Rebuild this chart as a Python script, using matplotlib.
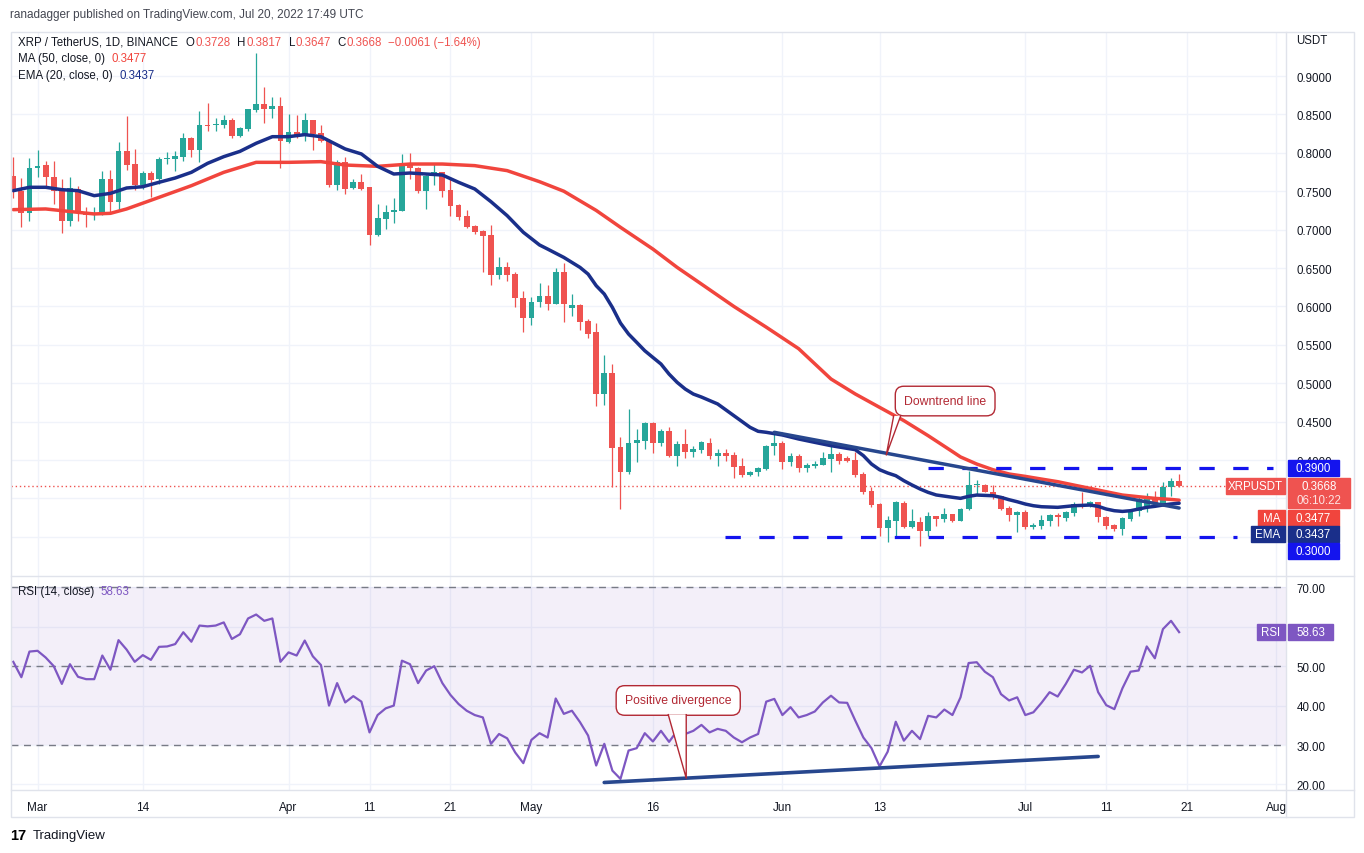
import matplotlib
matplotlib.use("Agg")
import matplotlib.pyplot as plt
import matplotlib.dates as mdates
import matplotlib.transforms as mtransforms
from matplotlib.patches import Rectangle, Polygon
import numpy as np
import pandas as pd

plt.rcParams['font.family'] = ['Liberation Sans', 'DejaVu Sans']

# XRP / USDT daily candles, 26 Feb - 20 Jul 2022
dates = pd.date_range("2022-02-26", "2022-07-20", freq="D")

opens = [
    0.7694, 0.7507, 0.7212,
    # Mar
    0.7798, 0.7846, 0.7681, 0.7516, 0.7117, 0.7529, 0.7234, 0.7195, 0.7204, 0.7659,
    0.7355, 0.8019, 0.7855, 0.7585, 0.7733, 0.7659, 0.7915, 0.7924, 0.7950, 0.8189,
    0.8037, 0.8367, 0.8362, 0.8367, 0.8427, 0.8223, 0.8310, 0.8558, 0.8636, 0.8566, 0.8614,
    # Apr
    0.8137, 0.8267, 0.8223, 0.8427, 0.8254, 0.8158, 0.7581, 0.7876, 0.7538, 0.7624,
    0.7551, 0.6930, 0.7138, 0.7225, 0.7247, 0.7854, 0.7798, 0.7507, 0.7694, 0.7746,
    0.7520, 0.7321, 0.7182, 0.7052, 0.6986, 0.6930, 0.6409, 0.6513, 0.6422, 0.6105,
    # May
    0.5844, 0.6061, 0.6131, 0.6031, 0.6452, 0.5974, 0.6018, 0.5814, 0.5662, 0.4859,
    0.5132, 0.4164, 0.3848, 0.4221, 0.4251, 0.4481, 0.4221, 0.4382, 0.4047, 0.4208,
    0.4100, 0.4135, 0.4222, 0.4048, 0.4091, 0.4065, 0.3918, 0.3805, 0.3848, 0.3883, 0.4178,
    # Jun
    0.4222, 0.3970, 0.4057, 0.3892, 0.3918, 0.3935, 0.4013, 0.4078, 0.4022, 0.4005,
    0.3818, 0.3601, 0.3427, 0.3111, 0.3210, 0.3440, 0.3124, 0.3197, 0.3080, 0.3267,
    0.3232, 0.3297, 0.3210, 0.3362, 0.3674, 0.3674, 0.3587, 0.3535, 0.3370, 0.3284,
    # Jul
    0.3327, 0.3123, 0.3145, 0.3210, 0.3284, 0.3240, 0.3310, 0.3427, 0.3397, 0.3457,
    0.3253, 0.3153, 0.3101, 0.3232, 0.3340, 0.3400, 0.3501, 0.3427, 0.3644, 0.3728,
]
highs = [
    0.7941, 0.7672, 0.7928,
    0.8037, 0.7898, 0.7889, 0.7659, 0.7681, 0.7572, 0.7290, 0.7290, 0.7768, 0.7776,
    0.8137, 0.8484, 0.8050, 0.7768, 0.7768, 0.7941, 0.8006, 0.8019, 0.8254, 0.8210,
    0.8540, 0.8644, 0.8453, 0.8492, 0.8453, 0.8332, 0.8571, 0.9295, 0.8853, 0.8723, 0.8731,
    0.8506, 0.8497, 0.8514, 0.8427, 0.8362, 0.8180, 0.7911, 0.7941, 0.7659, 0.7724,
    0.7551, 0.7334, 0.7321, 0.7407, 0.7985, 0.7998, 0.7811, 0.7711, 0.7854, 0.7755,
    0.7681, 0.7334, 0.7260, 0.7060, 0.6990, 0.7060, 0.6639, 0.6583, 0.6444, 0.6200,
    0.6118, 0.6304, 0.6278, 0.6495, 0.6565, 0.6161, 0.6031, 0.5836, 0.5783, 0.5367,
    0.5250, 0.4295, 0.4664, 0.4403, 0.4490, 0.4490, 0.4403, 0.4425, 0.4251, 0.4403,
    0.4186, 0.4252, 0.4282, 0.4144, 0.4144, 0.4109, 0.4022, 0.3861, 0.3905, 0.4196, 0.4361,
    0.4252, 0.4091, 0.4078, 0.3961, 0.3992, 0.4100, 0.4187, 0.4100, 0.4048, 0.4109,
    0.3840, 0.3644, 0.3440, 0.3275, 0.3471, 0.3471, 0.3362, 0.3254, 0.3328, 0.3275,
    0.3371, 0.3297, 0.3370, 0.3861, 0.3744, 0.3687, 0.3674, 0.3535, 0.3405, 0.3340,
    0.3353, 0.3180, 0.3284, 0.3297, 0.3310, 0.3340, 0.3449, 0.3587, 0.3470, 0.3457,
    0.3275, 0.3166, 0.3253, 0.3353, 0.3514, 0.3570, 0.3600, 0.3709, 0.3761, 0.3817,
]
lows = [
    0.7412, 0.7039, 0.7108,
    0.7681, 0.7559, 0.7334, 0.6952, 0.7052, 0.7117, 0.7039, 0.7125, 0.7195, 0.7225,
    0.7247, 0.7776, 0.7516, 0.7529, 0.7420, 0.7594, 0.7855, 0.7768, 0.7889, 0.7950,
    0.7876, 0.8280, 0.8280, 0.8323, 0.8193, 0.8210, 0.8280, 0.8527, 0.8388, 0.8453, 0.7802,
    0.8124, 0.8193, 0.8150, 0.8037, 0.8145, 0.7559, 0.7520, 0.7464, 0.7529, 0.7520,
    0.6800, 0.6913, 0.7008, 0.7082, 0.7247, 0.7659, 0.7477, 0.7269, 0.7581, 0.7420,
    0.7182, 0.7130, 0.7017, 0.6943, 0.6453, 0.6279, 0.6357, 0.6335, 0.5988, 0.5671,
    0.5757, 0.5987, 0.5957, 0.6031, 0.5801, 0.5879, 0.5697, 0.5584, 0.4707, 0.4716,
    0.3644, 0.3362, 0.3817, 0.3969, 0.4143, 0.4091, 0.4178, 0.4040, 0.3917, 0.4021,
    0.4034, 0.4091, 0.4013, 0.3918, 0.3992, 0.3762, 0.3775, 0.3796, 0.3796, 0.3874, 0.4065,
    0.3883, 0.3918, 0.3848, 0.3848, 0.3900, 0.3935, 0.3848, 0.3948, 0.3970, 0.3775,
    0.3558, 0.3384, 0.3015, 0.2937, 0.2993, 0.3111, 0.3111, 0.2876, 0.3015, 0.3145,
    0.3197, 0.3197, 0.3210, 0.3353, 0.3557, 0.3579, 0.3492, 0.3353, 0.3210, 0.3067,
    0.3101, 0.3101, 0.3101, 0.3145, 0.3136, 0.3210, 0.3275, 0.3370, 0.3384, 0.3197,
    0.3101, 0.3080, 0.3023, 0.3210, 0.3275, 0.3327, 0.3414, 0.3405, 0.3527, 0.3647,
]
closes = [
    0.7507, 0.7212, 0.7802,
    0.7824, 0.7681, 0.7507, 0.7117, 0.7542, 0.7225, 0.7195, 0.7212, 0.7659, 0.7355,
    0.8019, 0.7846, 0.7585, 0.7733, 0.7646, 0.7920, 0.7933, 0.7959, 0.8189, 0.8037,
    0.8362, 0.8354, 0.8375, 0.8427, 0.8223, 0.8323, 0.8571, 0.8636, 0.8566, 0.8614, 0.8158,
    0.8267, 0.8219, 0.8427, 0.8245, 0.8150, 0.7581, 0.7876, 0.7529, 0.7624, 0.7529,
    0.6930, 0.7147, 0.7234, 0.7260, 0.7854, 0.7798, 0.7507, 0.7703, 0.7746, 0.7507,
    0.7312, 0.7160, 0.7030, 0.6973, 0.6921, 0.6409, 0.6513, 0.6409, 0.6105, 0.5844,
    0.6061, 0.6131, 0.6031, 0.6452, 0.6031, 0.6018, 0.5801, 0.5640, 0.4859, 0.5132,
    0.4151, 0.3848, 0.4221, 0.4260, 0.4481, 0.4221, 0.4382, 0.4047, 0.4208, 0.4100,
    0.4143, 0.4230, 0.4048, 0.4091, 0.4057, 0.3905, 0.3805, 0.3848, 0.3892, 0.4187, 0.4222,
    0.3970, 0.4057, 0.3892, 0.3935, 0.3948, 0.4022, 0.4078, 0.3992, 0.3992, 0.3805,
    0.3579, 0.3414, 0.3111, 0.3223, 0.3449, 0.3124, 0.3210, 0.3080, 0.3267, 0.3232,
    0.3297, 0.3210, 0.3362, 0.3674, 0.3687, 0.3587, 0.3527, 0.3362, 0.3284, 0.3327,
    0.3123, 0.3153, 0.3223, 0.3284, 0.3253, 0.3327, 0.3427, 0.3397, 0.3457, 0.3253,
    0.3145, 0.3101, 0.3240, 0.3340, 0.3492, 0.3501, 0.3427, 0.3644, 0.3729, 0.3668,
]

# RSI(14) per candle
rsi = [
    51.1, 47.2, 53.7,
    53.9, 52.2, 50.0, 45.5, 50.5, 47.3, 46.7, 46.7, 52.7, 49.1, 56.6, 54.2, 51.1, 52.8,
    51.6, 54.9, 55.0, 55.6, 58.6, 56.2, 60.3, 60.1, 60.3, 61.1, 56.9, 58.1, 62.1, 63.1,
    61.5, 62.1, 51.1,
    53.5, 52.7, 56.5, 52.5, 50.3, 40.0, 45.7, 40.8, 42.4, 41.0, 33.2, 37.6, 39.3, 40.0,
    51.4, 50.5, 45.7, 48.9, 50.0, 45.7, 42.7, 40.4, 38.7, 37.6, 37.0, 30.3, 32.8, 31.7,
    28.1, 25.4,
    31.3, 33.0, 31.9, 41.8, 37.9, 38.7, 35.8, 32.4, 24.8, 30.3, 23.5, 21.4, 28.6, 29.2,
    33.0, 30.9, 33.6, 30.8, 33.6, 32.8, 33.6, 35.1, 33.2, 34.1, 33.6, 31.9, 30.7, 31.9,
    32.8, 41.0, 41.7,
    37.6, 39.6, 37.0, 37.6, 38.5, 40.8, 42.5, 40.8, 40.7, 36.2, 31.9, 29.2, 24.6, 28.3,
    35.9, 31.1, 33.6, 31.5, 37.4, 37.0, 39.0, 37.6, 42.1, 50.8, 51.0, 48.6, 47.2, 42.9,
    41.3, 42.1,
    37.6, 38.3, 40.7, 43.4, 42.3, 45.5, 49.1, 48.4, 50.1, 43.4, 40.1, 39.1, 44.4, 48.6,
    48.9, 55.0, 52.0, 59.4, 61.5, 58.63,
]

# EMA(20) and MA(50) read at selected days
ema_dates = ["2022-02-26", "2022-02-28", "2022-03-02", "2022-03-04", "2022-03-06", "2022-03-08",
             "2022-03-10", "2022-03-12", "2022-03-14", "2022-03-16", "2022-03-18", "2022-03-20",
             "2022-03-22", "2022-03-24", "2022-03-26", "2022-03-28", "2022-03-30", "2022-04-01",
             "2022-04-03", "2022-04-05", "2022-04-08", "2022-04-10", "2022-04-12", "2022-04-14",
             "2022-04-16", "2022-04-18", "2022-04-20", "2022-04-22", "2022-04-24", "2022-04-26",
             "2022-04-28", "2022-04-30", "2022-05-02", "2022-05-03", "2022-05-05", "2022-05-07",
             "2022-05-08", "2022-05-09", "2022-05-10", "2022-05-11", "2022-05-12", "2022-05-13",
             "2022-05-14", "2022-05-15", "2022-05-16", "2022-05-17", "2022-05-18", "2022-05-19",
             "2022-05-20", "2022-05-21", "2022-05-22", "2022-05-24", "2022-05-26", "2022-05-28",
             "2022-05-29", "2022-05-30", "2022-06-01", "2022-06-03", "2022-06-05", "2022-06-07",
             "2022-06-09", "2022-06-10", "2022-06-11", "2022-06-12", "2022-06-13", "2022-06-14",
             "2022-06-15", "2022-06-16", "2022-06-17", "2022-06-18", "2022-06-19", "2022-06-20",
             "2022-06-21", "2022-06-22", "2022-06-23", "2022-06-24", "2022-06-25", "2022-06-27",
             "2022-06-28", "2022-06-29", "2022-06-30", "2022-07-01", "2022-07-02", "2022-07-03",
             "2022-07-05", "2022-07-07", "2022-07-09", "2022-07-10", "2022-07-11", "2022-07-12",
             "2022-07-13", "2022-07-14", "2022-07-15", "2022-07-16", "2022-07-17", "2022-07-18",
             "2022-07-19", "2022-07-20"]
ema_vals = [0.7507, 0.7551, 0.7551, 0.7520, 0.7507, 0.7442,
            0.7472, 0.7542, 0.7559, 0.7616, 0.7672, 0.7746,
            0.7863, 0.7950, 0.8019, 0.8124, 0.8210, 0.8210,
            0.8237, 0.8210, 0.8050, 0.7985, 0.7824, 0.7724,
            0.7737, 0.7724, 0.7711, 0.7616, 0.7529, 0.7364,
            0.7182, 0.6965, 0.6800, 0.6747, 0.6638, 0.6508,
            0.6421, 0.6270, 0.6161, 0.5987, 0.5783, 0.5640,
            0.5532, 0.5423, 0.5336, 0.5250, 0.5119, 0.5011,
            0.4924, 0.4859, 0.4820, 0.4730, 0.4578, 0.4426,
            0.4374, 0.4361, 0.4326, 0.4274, 0.4230, 0.4187,
            0.4152, 0.4135, 0.4057, 0.3948, 0.3874, 0.3831,
            0.3796, 0.3731, 0.3675, 0.3623, 0.3579, 0.3545,
            0.3530, 0.3515, 0.3501, 0.3527, 0.3544, 0.3535,
            0.3514, 0.3483, 0.3457, 0.3427, 0.3405, 0.3392,
            0.3384, 0.3405, 0.3414, 0.3397, 0.3362, 0.3340,
            0.3331, 0.3340, 0.3362, 0.3384, 0.3397, 0.3414,
            0.3428, 0.3437]

ma_dates = ["2022-02-26", "2022-03-02", "2022-03-06", "2022-03-08", "2022-03-10", "2022-03-12",
            "2022-03-16", "2022-03-20", "2022-03-24", "2022-03-28", "2022-04-01", "2022-04-05",
            "2022-04-08", "2022-04-12", "2022-04-16", "2022-04-20", "2022-04-24", "2022-04-28",
            "2022-05-02", "2022-05-05", "2022-05-09", "2022-05-12", "2022-05-16", "2022-05-19",
            "2022-05-22", "2022-05-26", "2022-05-30", "2022-06-03", "2022-06-07", "2022-06-10",
            "2022-06-13", "2022-06-16", "2022-06-19", "2022-06-22", "2022-06-23", "2022-06-25",
            "2022-06-27", "2022-06-29", "2022-07-01", "2022-07-03", "2022-07-05", "2022-07-07",
            "2022-07-09", "2022-07-11", "2022-07-13", "2022-07-15", "2022-07-17", "2022-07-19",
            "2022-07-20"]
ma_vals = [0.7260, 0.7269, 0.7225, 0.7204, 0.7212, 0.7269,
           0.7420, 0.7572, 0.7746, 0.7876, 0.7876, 0.7885,
           0.7841, 0.7824, 0.7854, 0.7854, 0.7833, 0.7768,
           0.7624, 0.7500, 0.7250, 0.7030, 0.6747, 0.6508,
           0.6291, 0.6000, 0.5730, 0.5450, 0.5055, 0.4860,
           0.4686, 0.4513, 0.4317, 0.4110, 0.4040, 0.3948,
           0.3874, 0.3818, 0.3787, 0.3752, 0.3718, 0.3674,
           0.3631, 0.3587, 0.3544, 0.3522, 0.3501, 0.3487,
           0.3477]

support, resistance = 0.30, 0.39
tick_dates = ["2022-03-01", "2022-03-14", "2022-04-01", "2022-04-11", "2022-04-21", "2022-05-01",
              "2022-05-16", "2022-06-01", "2022-06-13", "2022-07-01", "2022-07-11", "2022-07-21",
              "2022-08-01"]
tick_labels = ["Mar", "14", "Apr", "11", "21", "May", "16", "Jun", "13", "Jul", "11", "21", "Aug"]

assert len(opens) == len(highs) == len(lows) == len(closes) == len(rsi) == len(dates)

GREEN, RED = "#26a69a", "#ef5350"
MA_RED, EMA_BLUE = "#f1453d", "#1a2f8a"
TREND_BLUE, LEVEL_BLUE = "#27478e", "#1414ee"
PURPLE = "#7e57c2"
GRID, BORDER, TEXT = "#f0f3fa", "#e0e3eb", "#131722"
NOTE_RED = "#b22833"

W, H = 1364, 854
fig = plt.figure(figsize=(W / 100, H / 100), dpi=100)
px = mtransforms.Affine2D().scale(1 / W, -1 / H).translate(0, 1) + fig.transFigure


def box(l, t, r, b):
    return [l / W, 1 - b / H, (r - l) / W, (b - t) / H]


ax = fig.add_axes(box(11, 33, 1286, 577))
axr = fig.add_axes(box(11, 577, 1286, 791), sharex=ax)

x = mdates.date2num(dates)
d0 = mdates.date2num(pd.Timestamp("2022-03-01"))
o, h, l, c = map(np.array, (opens, highs, lows, closes))
col = np.where(c >= o, GREEN, RED)

# candles
ax.vlines(x, l, h, colors=col, lw=0.9, zorder=3)
ax.bar(x, np.maximum(np.abs(c - o), 0.0009), bottom=np.minimum(o, c), width=0.72,
       color=col, lw=0, zorder=4)

# moving averages
ax.plot(mdates.date2num(pd.to_datetime(ma_dates)), ma_vals, color=MA_RED, lw=2.5,
        solid_capstyle="round", zorder=5)
ax.plot(mdates.date2num(pd.to_datetime(ema_dates)), ema_vals, color=EMA_BLUE, lw=2.5,
        solid_capstyle="round", zorder=5)

# current price line
ax.axhline(closes[-1], color=RED, lw=1, ls=(0, (1, 2)), zorder=2)

# support / resistance levels and downtrend line
ax.plot([d0 + 110.0, d0 + 152.6], [resistance, resistance], color=LEVEL_BLUE, lw=2.3,
        dashes=(4.8, 5.8), zorder=6)
ax.plot([d0 + 84.9, d0 + 148.2], [support, support], color=LEVEL_BLUE, lw=2.3,
        dashes=(4.8, 5.8), zorder=6)
ax.plot([d0 + 91, d0 + 141], [highs[dates.get_loc("2022-05-31")], 0.3375], color=TREND_BLUE,
        lw=2.5, solid_capstyle="round", zorder=6)


def callout(axis, text, cx, cy, base, tip):
    axis.text(cx, cy, text, ha="center", va="center", fontsize=8.8, color=NOTE_RED, zorder=8,
              bbox=dict(boxstyle="round,pad=0.72,rounding_size=0.7", fc="white", ec=NOTE_RED, lw=1))
    bx0, bx1, by = base
    axis.add_patch(Polygon([(bx0, by), tip, (bx1, by)], closed=True, fc="white", ec="none",
                           zorder=9))
    axis.plot([bx0, tip[0], bx1], [by, tip[1], by], color=NOTE_RED, lw=1, zorder=10)


callout(ax, "Downtrend line", d0 + 112.1, 0.4768, (d0 + 105.74, d0 + 106.6, 0.4574),
        (d0 + 104.83, 0.4065))


def price_fmt(v, pos):
    # labels hidden behind the tags on the price scale
    return "" if round(v, 2) in (0.30, 0.35) else f"{v:.4f}"


def rsi_fmt(v, pos):
    return "" if round(v) == 60 else f"{v:.2f}"


ax.set_xlim(d0 - 3.28, d0 + 154.2)
ax.set_ylim(0.2490, 0.9573)
ax.set_yticks(np.arange(0.30, 0.901, 0.05))
ax.yaxis.set_major_formatter(matplotlib.ticker.FuncFormatter(price_fmt))
ax.yaxis.tick_right()
ax.tick_params(axis="y", length=0, pad=7.6, labelsize=8.3, labelcolor=TEXT)
ax.tick_params(axis="x", length=0, labelbottom=False)
ax.grid(color=GRID, lw=1)
ax.set_axisbelow(True)

# RSI panel
axr.axhspan(30, 70, color=PURPLE, alpha=0.09, lw=0, zorder=1)
for lvl in (70, 50, 30):
    axr.axhline(lvl, color="#787b86", lw=1, dashes=(5, 4), zorder=2)
axr.plot(x, rsi, color=PURPLE, lw=1.6, zorder=4)
axr.plot([d0 + 69.99, d0 + 131.0], [20.5, 27.1], color=TREND_BLUE, lw=2.6,
         solid_capstyle="round", zorder=5)
callout(axr, "Positive divergence", d0 + 79.13, 41.3, (d0 + 77.9, d0 + 80.12, 37.7),
        (d0 + 80.12, 21.6))
axr.set_ylim(18.59, 72.87)
axr.set_yticks([20, 30, 40, 50, 60, 70])
axr.yaxis.set_major_formatter(matplotlib.ticker.FuncFormatter(rsi_fmt))
axr.yaxis.tick_right()
axr.tick_params(axis="y", length=0, pad=7.6, labelsize=8.3, labelcolor=TEXT)
axr.set_xticks(mdates.date2num(pd.to_datetime(tick_dates)))
axr.set_xticklabels(tick_labels)
axr.tick_params(axis="x", length=0, pad=8, labelsize=8.5, labelcolor=TEXT)
axr.grid(color=GRID, lw=1)
axr.set_axisbelow(True)

for a in (ax, axr):
    for s in a.spines.values():
        s.set_visible(False)

# frame lines
fig.patches.append(Rectangle((11, 33), 1343, 785, transform=px, fill=False, ec=BORDER, lw=1,
                             zorder=20))
for (xa, ya, xb, yb) in [(11, 577, 1354, 577), (11, 791, 1354, 791), (1286, 33, 1286, 818)]:
    fig.lines.append(plt.Line2D([xa, xb], [ya, yb], transform=px, color=BORDER, lw=1, zorder=20))


def ypx(axis, v):
    return H - axis.transData.transform((d0, v))[1]


def tag(x0, x1, yc, hh, color, text):
    fig.patches.append(Rectangle((x0, yc - hh / 2), x1 - x0, hh, transform=px, color=color,
                                 zorder=30))
    fig.text((x0 + x1) / 2, yc, text, transform=px, ha="center", va="center", color="white",
             fontsize=8.3, zorder=31)


yc = ypx(ax, closes[-1])
tag(1288, 1339, ypx(ax, resistance), 16, LEVEL_BLUE, f"{resistance:.4f}")
tag(1226, 1285, yc, 16, RED, "XRPUSDT")
fig.patches.append(Rectangle((1288, yc - 8), 62, 30, transform=px, color=RED, zorder=30))
fig.text(1319, yc, f"{closes[-1]:.4f}", transform=px, ha="center", va="center", color="white",
         fontsize=8.3, zorder=31)
fig.text(1319, yc + 14, "06:10:22", transform=px, ha="center", va="center", color="#fde3e2",
         fontsize=8.3, zorder=31)
y_ma = yc + 32
tag(1258, 1285, y_ma, 16, MA_RED, "MA")
tag(1288, 1339, y_ma, 16, MA_RED, f"{ma_vals[-1]:.4f}")
y_ema = y_ma + 16.5
tag(1251, 1285, y_ema, 16, EMA_BLUE, "EMA")
tag(1288, 1339, y_ema, 16, EMA_BLUE, f"{ema_vals[-1]:.4f}")
tag(1288, 1339, y_ema + 16.5, 16, LEVEL_BLUE, f"{support:.4f}")

y_rsi = ypx(axr, rsi[-1])
tag(1257, 1285, y_rsi, 16.5, PURPLE, "RSI")
tag(1288, 1333, y_rsi, 16.5, PURPLE, f"{rsi[-1]:.2f}")

fig.text(1296, 41, "USDT", transform=px, va="center", ha="left", fontsize=8.3, color=TEXT)

# header and legends, laid out piece by piece
renderer = fig.canvas.get_renderer()


def chain(x0, y0, parts, size=8.3):
    for s, color, gap in parts:
        t = fig.text(x0, y0, s, transform=px, va="center", fontsize=size, color=color)
        x0 += t.get_window_extent(renderer).width + gap


fig.text(10, 15, "ranadagger published on TradingView.com, Jul 20, 2022 17:49 UTC", transform=px,
         va="center", fontsize=8.5, color="#434651")
chg = closes[-1] - closes[-2]
chain(18, 42.7, [("XRP / TetherUS, 1D, BINANCE", TEXT, 8),
                 ("O", TEXT, 0.5), (f"{opens[-1]:.4f}", RED, 7),
                 ("H", TEXT, 0.5), (f"{highs[-1]:.4f}", RED, 7),
                 ("L", TEXT, 0.5), (f"{lows[-1]:.4f}", RED, 7),
                 ("C", TEXT, 0.5), (f"{closes[-1]:.4f}", RED, 6),
                 (f"\u2212{abs(chg):.4f} (\u2212{abs(chg) / closes[-2] * 100:.2f}%)", RED, 0)])
chain(18, 59.3, [("MA (50, close, 0)", TEXT, 7), (f"{ma_vals[-1]:.4f}", MA_RED, 0)])
chain(18, 76.3, [("EMA (20, close, 0)", TEXT, 7), (f"{ema_vals[-1]:.4f}", EMA_BLUE, 0)])
chain(18, 592, [("RSI (14, close)", TEXT, 6), (f"{rsi[-1]:.2f}", PURPLE, 0)])

fig.text(10, 836, "17", transform=px, va="center", fontsize=10.5, fontweight="bold", color="black")
fig.text(33, 836, "TradingView", transform=px, va="center", fontsize=9.5, color=TEXT)

fig.savefig("out.png", dpi=100)
